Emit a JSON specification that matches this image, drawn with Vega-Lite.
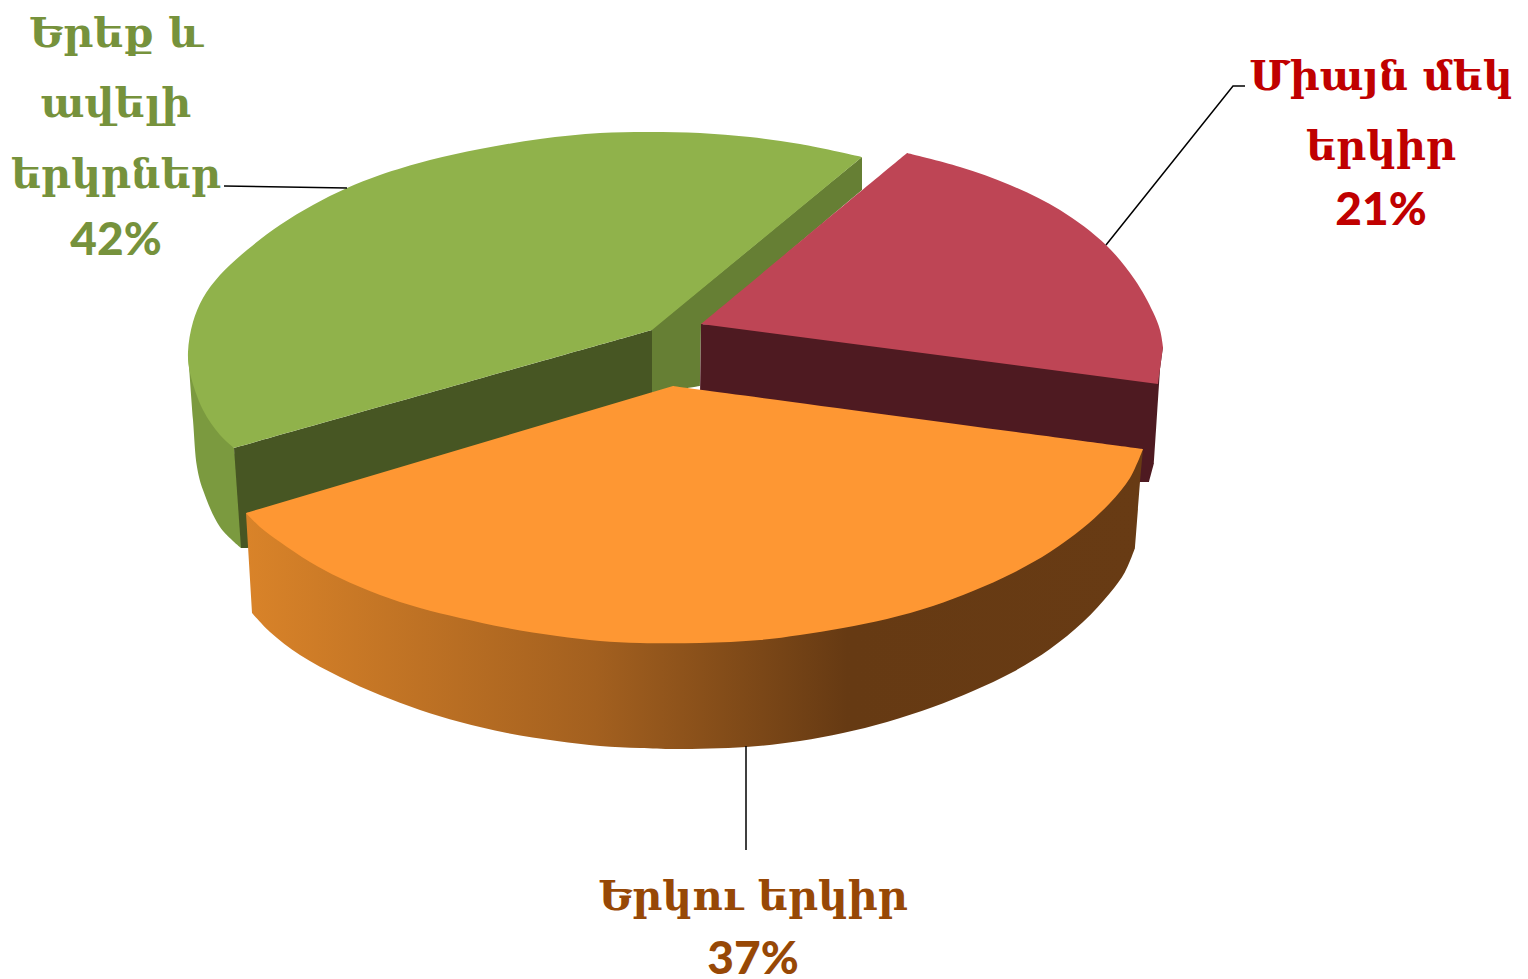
{"$schema":"https://vega.github.io/schema/vega-lite/v6.json","width":1528,"height":979,"padding":0,"autosize":"none","background":"white","config":{"view":{"stroke":null}},
"datasets":{"outline":[
{"part":"green-side","i":1,"x":188,"y":352},{"part":"green-side","i":2,"x":193,"y":420},{"part":"green-side","i":3,"x":197,"y":467},{"part":"green-side","i":4,"x":203,"y":490},{"part":"green-side","i":5,"x":220,"y":527},{"part":"green-side","i":6,"x":241,"y":548},{"part":"green-side","i":7,"x":241,"y":548},{"part":"green-side","i":8,"x":250,"y":548},{"part":"green-side","i":9,"x":250,"y":548},{"part":"green-side","i":10,"x":234,"y":448},{"part":"green-side","i":11,"x":234,"y":448},
{"part":"green-cut","i":1,"x":234,"y":448},{"part":"green-cut","i":2,"x":234,"y":448},{"part":"green-cut","i":3,"x":652,"y":330},{"part":"green-cut","i":4,"x":652,"y":330},{"part":"green-cut","i":5,"x":652,"y":400},{"part":"green-cut","i":6,"x":652,"y":400},{"part":"green-cut","i":7,"x":247,"y":548},{"part":"green-cut","i":8,"x":247,"y":548},{"part":"green-cut","i":9,"x":241,"y":548},{"part":"green-cut","i":10,"x":241,"y":548},
{"part":"green-cut2","i":1,"x":652,"y":329},{"part":"green-cut2","i":2,"x":652,"y":329},{"part":"green-cut2","i":3,"x":862,"y":157},{"part":"green-cut2","i":4,"x":862,"y":157},{"part":"green-cut2","i":5,"x":862,"y":190},{"part":"green-cut2","i":6,"x":862,"y":190},{"part":"green-cut2","i":7,"x":701,"y":326},{"part":"green-cut2","i":8,"x":701,"y":326},{"part":"green-cut2","i":9,"x":700,"y":386},{"part":"green-cut2","i":10,"x":700,"y":386},{"part":"green-cut2","i":11,"x":652,"y":394},{"part":"green-cut2","i":12,"x":652,"y":394},
{"part":"green-top","i":1,"x":862,"y":157},{"part":"green-top","i":2,"x":862,"y":157},{"part":"green-top","i":3,"x":800,"y":144},{"part":"green-top","i":4,"x":750,"y":137},{"part":"green-top","i":5,"x":700,"y":133},{"part":"green-top","i":6,"x":650,"y":132},{"part":"green-top","i":7,"x":600,"y":133},{"part":"green-top","i":8,"x":540,"y":139},{"part":"green-top","i":9,"x":480,"y":149},{"part":"green-top","i":10,"x":430,"y":160},{"part":"green-top","i":11,"x":380,"y":175},{"part":"green-top","i":12,"x":347,"y":188},{"part":"green-top","i":13,"x":313,"y":205},{"part":"green-top","i":14,"x":280,"y":225},{"part":"green-top","i":15,"x":247,"y":250},{"part":"green-top","i":16,"x":220,"y":275},{"part":"green-top","i":17,"x":203,"y":298},{"part":"green-top","i":18,"x":193,"y":322},{"part":"green-top","i":19,"x":188,"y":352},{"part":"green-top","i":20,"x":190,"y":373},{"part":"green-top","i":21,"x":203,"y":410},{"part":"green-top","i":22,"x":220,"y":435},{"part":"green-top","i":23,"x":234,"y":448},{"part":"green-top","i":24,"x":234,"y":448},{"part":"green-top","i":25,"x":652,"y":330},{"part":"green-top","i":26,"x":652,"y":330},
{"part":"red-cut","i":1,"x":701,"y":324},{"part":"red-cut","i":2,"x":701,"y":324},{"part":"red-cut","i":3,"x":1163,"y":347},{"part":"red-cut","i":4,"x":1163,"y":347},{"part":"red-cut","i":5,"x":1160,"y":370},{"part":"red-cut","i":6,"x":1160,"y":370},{"part":"red-cut","i":7,"x":1154,"y":463},{"part":"red-cut","i":8,"x":1154,"y":463},{"part":"red-cut","i":9,"x":1149,"y":482},{"part":"red-cut","i":10,"x":1149,"y":482},{"part":"red-cut","i":11,"x":1140,"y":482},{"part":"red-cut","i":12,"x":1140,"y":482},{"part":"red-cut","i":13,"x":1100,"y":482},{"part":"red-cut","i":14,"x":1100,"y":482},{"part":"red-cut","i":15,"x":700,"y":396},{"part":"red-cut","i":16,"x":700,"y":396},
{"part":"red-top","i":1,"x":701,"y":324},{"part":"red-top","i":2,"x":701,"y":324},{"part":"red-top","i":3,"x":907,"y":153},{"part":"red-top","i":4,"x":907,"y":153},{"part":"red-top","i":5,"x":960,"y":167},{"part":"red-top","i":6,"x":1010,"y":185},{"part":"red-top","i":7,"x":1060,"y":210},{"part":"red-top","i":8,"x":1106,"y":245},{"part":"red-top","i":9,"x":1135,"y":280},{"part":"red-top","i":10,"x":1153,"y":312},{"part":"red-top","i":11,"x":1160,"y":330},{"part":"red-top","i":12,"x":1163,"y":347},{"part":"red-top","i":13,"x":1163,"y":347},{"part":"red-top","i":14,"x":1158,"y":384},{"part":"red-top","i":15,"x":1158,"y":384},
{"part":"orange-side","i":1,"x":246,"y":513},{"part":"orange-side","i":2,"x":246,"y":513},{"part":"orange-side","i":3,"x":1143,"y":449},{"part":"orange-side","i":4,"x":1143,"y":449},{"part":"orange-side","i":5,"x":1140,"y":482},{"part":"orange-side","i":6,"x":1140,"y":482},{"part":"orange-side","i":7,"x":1135,"y":548},{"part":"orange-side","i":8,"x":1135,"y":548},{"part":"orange-side","i":9,"x":1125,"y":572},{"part":"orange-side","i":10,"x":1110,"y":593},{"part":"orange-side","i":11,"x":1083,"y":622},{"part":"orange-side","i":12,"x":1050,"y":649},{"part":"orange-side","i":13,"x":1013,"y":672},{"part":"orange-side","i":14,"x":973,"y":691},{"part":"orange-side","i":15,"x":933,"y":707},{"part":"orange-side","i":16,"x":887,"y":722},{"part":"orange-side","i":17,"x":843,"y":733},{"part":"orange-side","i":18,"x":800,"y":741},{"part":"orange-side","i":19,"x":746,"y":747},{"part":"orange-side","i":20,"x":675,"y":749},{"part":"orange-side","i":21,"x":640,"y":748},{"part":"orange-side","i":22,"x":600,"y":746},{"part":"orange-side","i":23,"x":557,"y":741},{"part":"orange-side","i":24,"x":507,"y":733},{"part":"orange-side","i":25,"x":460,"y":722},{"part":"orange-side","i":26,"x":420,"y":710},{"part":"orange-side","i":27,"x":380,"y":695},{"part":"orange-side","i":28,"x":340,"y":677},{"part":"orange-side","i":29,"x":300,"y":655},{"part":"orange-side","i":30,"x":270,"y":632},{"part":"orange-side","i":31,"x":252,"y":613},{"part":"orange-side","i":32,"x":252,"y":613},
{"part":"orange-top","i":1,"x":673,"y":386},{"part":"orange-top","i":2,"x":673,"y":386},{"part":"orange-top","i":3,"x":1143,"y":449},{"part":"orange-top","i":4,"x":1143,"y":449},{"part":"orange-top","i":5,"x":1130,"y":478},{"part":"orange-top","i":6,"x":1110,"y":503},{"part":"orange-top","i":7,"x":1083,"y":528},{"part":"orange-top","i":8,"x":1050,"y":552},{"part":"orange-top","i":9,"x":1013,"y":573},{"part":"orange-top","i":10,"x":973,"y":591},{"part":"orange-top","i":11,"x":933,"y":606},{"part":"orange-top","i":12,"x":887,"y":619},{"part":"orange-top","i":13,"x":843,"y":628},{"part":"orange-top","i":14,"x":800,"y":635},{"part":"orange-top","i":15,"x":760,"y":640},{"part":"orange-top","i":16,"x":700,"y":643},{"part":"orange-top","i":17,"x":640,"y":643},{"part":"orange-top","i":18,"x":600,"y":641},{"part":"orange-top","i":19,"x":557,"y":636},{"part":"orange-top","i":20,"x":507,"y":628},{"part":"orange-top","i":21,"x":460,"y":618},{"part":"orange-top","i":22,"x":420,"y":608},{"part":"orange-top","i":23,"x":380,"y":595},{"part":"orange-top","i":24,"x":340,"y":578},{"part":"orange-top","i":25,"x":310,"y":562},{"part":"orange-top","i":26,"x":280,"y":542},{"part":"orange-top","i":27,"x":260,"y":527},{"part":"orange-top","i":28,"x":246,"y":513},{"part":"orange-top","i":29,"x":246,"y":513},
{"part":"leader-a","i":1,"x":224,"y":186},{"part":"leader-a","i":2,"x":347,"y":188},
{"part":"leader-b","i":1,"x":1106,"y":245},{"part":"leader-b","i":2,"x":1233,"y":86},{"part":"leader-b","i":3,"x":1245,"y":86},
{"part":"leader-c","i":1,"x":746,"y":746},{"part":"leader-c","i":2,"x":746,"y":850}
],
"labels":[
{"text":"Երեք և","x":116,"y":47,"kind":"name","group":"green"},{"text":"ավելի","x":116,"y":117,"kind":"name","group":"green"},{"text":"երկրներ","x":116,"y":188,"kind":"name","group":"green"},{"text":"42%","x":116,"y":255,"kind":"share","group":"green"},
{"text":"Միայն մեկ","x":1381,"y":90,"kind":"name","group":"red"},{"text":"երկիր","x":1381,"y":160,"kind":"name","group":"red"},{"text":"21%","x":1381,"y":225,"kind":"share","group":"red"},
{"text":"Երկու երկիր","x":753,"y":910,"kind":"name","group":"brown"},{"text":"37%","x":753,"y":974,"kind":"share","group":"brown"}
]},
"resolve":{"scale":{"color":"independent"}},
"encoding":{"x":{"field":"x","type":"quantitative","axis":null,"scale":{"domain":[0,1528],"nice":false,"zero":false}},"y":{"field":"y","type":"quantitative","axis":null,"scale":{"domain":[979,0],"nice":false,"zero":false}}},
"layer":[
{"data":{"name":"outline"},"transform":[{"filter":"indexof(['green-side','green-cut','green-cut2','green-top','red-cut','red-top'],datum.part)>=0"}],"mark":{"type":"line","filled":true,"strokeWidth":0,"interpolate":"catmull-rom"},"encoding":{"order":{"field":"i","type":"quantitative"},"color":{"field":"part","type":"nominal","legend":null,"sort":null,"scale":{"domain":["green-side","green-cut","green-cut2","green-top","red-cut","red-top"],"range":["#7b9a3f","#475623","#667f34","#90b24b","#4e1a21","#be4555"]}}}},
{"data":{"name":"outline"},"transform":[{"filter":"datum.part==='orange-side'"}],"mark":{"type":"line","filled":true,"strokeWidth":0,"interpolate":"catmull-rom","color":{"gradient":"linear","x1":0,"y1":0,"x2":1,"y2":0,"stops":[{"offset":0,"color":"#d98329"},{"offset":0.39,"color":"#a3601f"},{"offset":0.67,"color":"#663a13"},{"offset":1,"color":"#683b14"}]}},"encoding":{"order":{"field":"i","type":"quantitative"}}},
{"data":{"name":"outline"},"transform":[{"filter":"datum.part==='orange-top'"}],"mark":{"type":"line","filled":true,"strokeWidth":0,"interpolate":"catmull-rom","color":"#fe9733"},"encoding":{"order":{"field":"i","type":"quantitative"}}},
{"data":{"name":"outline"},"transform":[{"filter":"indexof(datum.part,'leader')===0"}],"mark":{"type":"line","color":"#000000","strokeWidth":1.5},"encoding":{"order":{"field":"i","type":"quantitative"},"detail":{"field":"part"}}},
{"data":{"name":"labels"},"transform":[{"filter":"datum.kind==='name'"}],"mark":{"type":"text","font":"DejaVu Serif","fontWeight":"bold","fontSize":41.5,"align":"center","baseline":"alphabetic"},"encoding":{"text":{"field":"text"},"color":{"field":"group","type":"nominal","legend":null,"scale":{"domain":["green","red","brown"],"range":["#76923c","#c00000","#974806"]}}}},
{"data":{"name":"labels"},"transform":[{"filter":"datum.kind==='share'"}],"mark":{"type":"text","font":"Lato","fontWeight":900,"fontSize":46,"align":"center","baseline":"alphabetic"},"encoding":{"text":{"field":"text"},"color":{"field":"group","type":"nominal","legend":null,"scale":{"domain":["green","red","brown"],"range":["#76923c","#c00000","#974806"]}}}}
]}
